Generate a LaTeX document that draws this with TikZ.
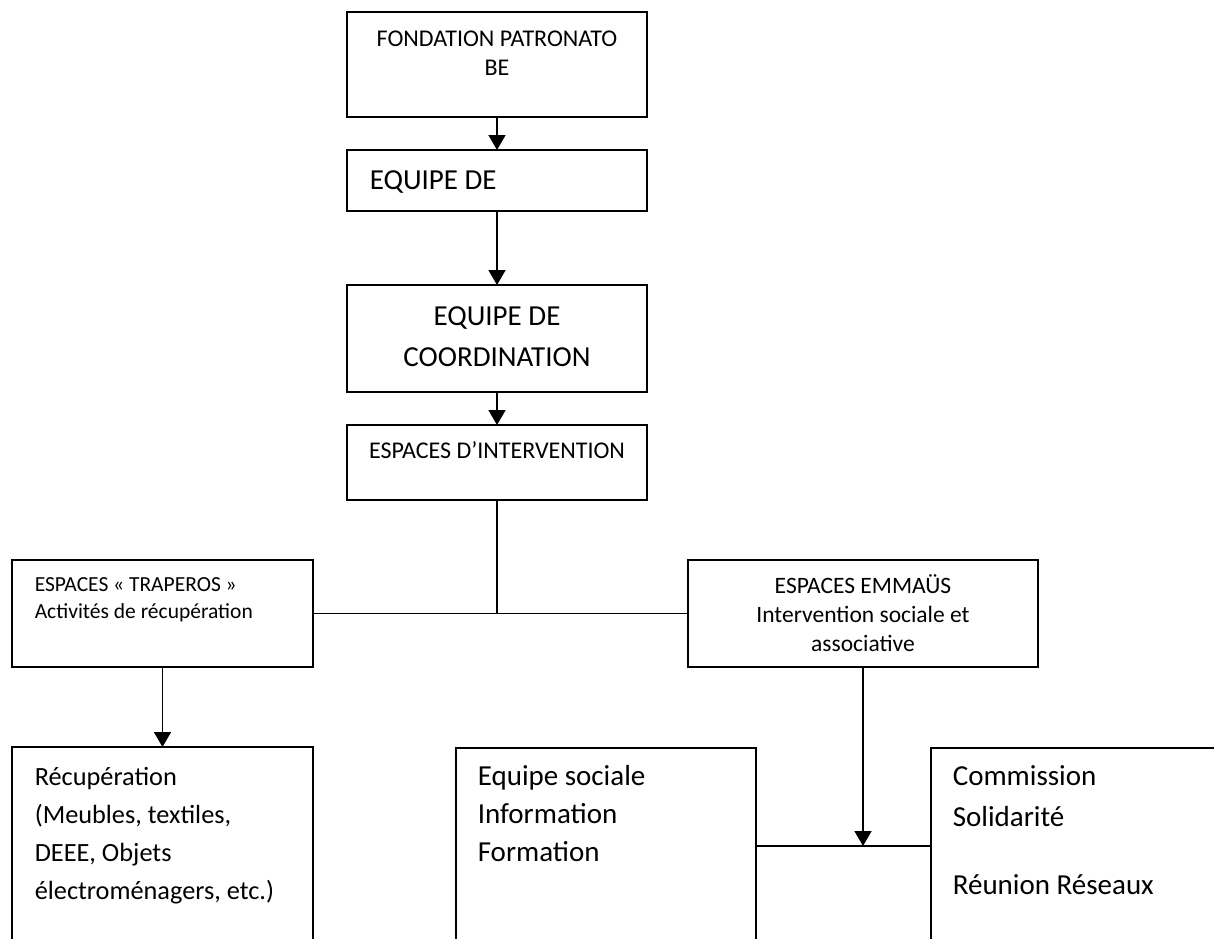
\documentclass[tikz,border=0pt]{standalone}
\usepackage{fontspec}
\setmainfont{Carlito}
\usetikzlibrary{positioning, arrows.meta}

\begin{document}
\begin{tikzpicture}[x=1pt,y=-1pt,>={Triangle[width=17pt,length=15pt]},line width=1.6pt,
    box/.style={draw,rectangle,inner sep=0pt,outer sep=0pt,anchor=north west},
    ctxt/.style={inner sep=0pt,anchor=base,align=flush center},
    ltxt/.style={inner sep=0pt,anchor=base west,align=flush left,text width=270pt},
    petit/.style={font=\fontsize{24}{29}\selectfont},
    moyen/.style={font=\fontsize{21.5}{27}\selectfont},
    emm/.style={font=\fontsize{23.5}{29}\selectfont},
    grand/.style={font=\fontsize{29}{41}\selectfont},
    bas/.style={font=\fontsize{26.3}{38}\selectfont},
    basg/.style={font=\fontsize{29}{38}\selectfont}]

\useasboundingbox (0,0) rectangle (1214,938);
\clip (0,0) rectangle (1214,938);

% pyramide du haut
\node[box, minimum width=300pt, minimum height=105pt] (fondation) at (347,12) {};
\node[ctxt, petit, text width=290pt] (fondationtxt) at (497,46) {FONDATION PATRONATO\\BE};
\node[box, minimum width=300pt, minimum height=61pt]  (equipe)    at (347,150) {};
\node[ltxt, grand] (equipetxt) at (369,189) {EQUIPE DE};
\node[box, minimum width=300pt, minimum height=107pt] (coord)     at (347,285) {};
\node[ctxt, grand, text width=290pt] (coordtxt) at (497,325) {EQUIPE DE\\COORDINATION};
\node[box, minimum width=300pt, minimum height=75pt]  (espaces)   at (347,425) {};
\node[ctxt, petit, text width=290pt] (espacestxt) at (497,458) {ESPACES D’INTERVENTION};

% espaces
\node[box, minimum width=301pt, minimum height=107pt] (traperos) at (12,560) {};
\node[ltxt, moyen] (traperostxt) at (34,591) {ESPACES « TRAPEROS »\\Activités de récupération};
\node[box, minimum width=350pt, minimum height=107pt] (emmaus) at (688,560) {};
\node[ctxt, emm, text width=340pt] (emmaustxt) at (863,593) {ESPACES EMMAÜS\\Intervention sociale et\\associative};

% boites du bas (coupees par le bord)
\node[box, minimum width=301pt, minimum height=260pt] (recup) at (12,747) {};
\node[ltxt, bas] (recuptxt) at (34,785) {Récupération\\(Meubles, textiles,\\DEEE, Objets\\électroménagers, etc.)};
\node[box, minimum width=300pt, minimum height=260pt] (sociale) at (456,748) {};
\node[ltxt, basg] (socialetxt) at (477,785) {Equipe sociale\\Information\\Formation};
\node[box, minimum width=340pt, minimum height=260pt] (commission) at (931,748) {};
\node[ltxt, basg] (commissiontxt) at (952,785) {Commission\\[3pt]Solidarité\\[30pt]Réunion Réseaux};

\coordinate (jonc) at (863,846);

\path[->]
(fondation) edge (equipe)
(equipe) edge (coord)
(coord) edge (espaces)
(traperos) edge (recup)
(emmaus.south) edge (jonc)
;
\draw (espaces.south) -- (espaces |- traperos.east);
\draw (traperos.east) -- (emmaus.west);
\draw (sociale.east |- jonc) -- (commission.west |- jonc);
\end{tikzpicture}
\end{document}
